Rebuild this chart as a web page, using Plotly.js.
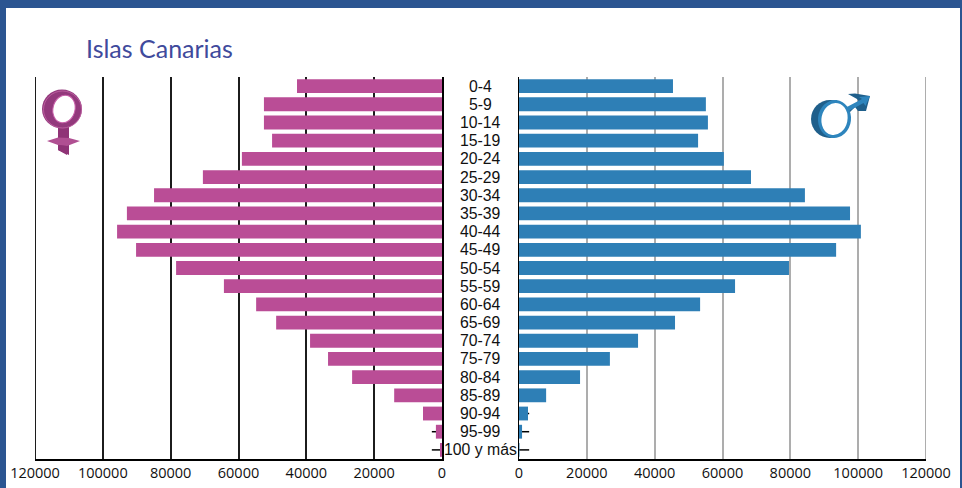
<!DOCTYPE html>
<html>
<head>
<meta charset="utf-8">
<script src="https://cdn.plot.ly/plotly-3.0.1.min.js"></script>
<style>html,body{margin:0;padding:0;background:#fff;overflow:hidden}#chart{width:962px;height:488px}</style>
</head>
<body>
<div id="chart"></div>
<script>
const ageGroups = ['0-4','5-9','10-14','15-19','20-24','25-29','30-34','35-39','40-44','45-49','50-54','55-59','60-64','65-69','70-74','75-79','80-84','85-89','90-94','95-99','100 y más'];
const mujeres = [42750,52500,52500,50100,59000,70500,84900,92900,95800,90200,78400,64300,54800,48900,38900,33600,26500,14100,5600,1800,600];
const hombres = [45400,55100,55700,52800,60400,68400,84300,97600,100800,93500,79600,63700,53400,46000,35100,26800,18000,8000,2650,900,150];
const tickValues = [0,20000,40000,60000,80000,100000,120000];
const stubGroups = ['90-94','95-99','100 y más'];
const stubLength = 3000;
const axisMax = 120000;

const W = 962, H = 488;
const M = {l:35, r:36, t:77, b:29};
const plotW = W - M.l - M.r, plotH = H - M.t - M.b;
const px = x => (x - M.l) / plotW;
const py = y => 1 - (y - M.t) / plotH;
const BLUE = '#2b5591';
const GRID_LEFT = '#1c1c1c', GRID_RIGHT = '#adadad';

// Female symbol: extruded ring, stem and cross
const venus = `<svg xmlns="http://www.w3.org/2000/svg" viewBox="0 0 42 70" width="42" height="70">
<path d="M16 36 L27 36 L27 50 L27 66 L16 61 Z" fill="#8f3376"/>
<path d="M5 52 L16 48.5 L27 49 L38 52 L25 57 L16 56 Z" fill="#b04f92"/>
<path d="M16 56 L25 57 L25 66 L16 61 Z" fill="#8f3376"/>
<ellipse cx="20" cy="20" rx="20" ry="19.5" fill="#93397c"/>
<ellipse cx="20.5" cy="20.5" rx="19" ry="18.5" fill="none" stroke="#c366a6" stroke-width="0.8"/>
<ellipse cx="22" cy="20" rx="11" ry="14" transform="rotate(14 22 20)" fill="#fff" stroke="#c85ea8" stroke-width="1"/>
</svg>`;
// Male symbol: extruded ring with an arrow pointing up and to the right
const mars = `<svg xmlns="http://www.w3.org/2000/svg" viewBox="0 0 62 48" width="62" height="48">
<path d="M36 17 L50 10 L47 6 L38 1 L45 0.5 L60 3 L56 18 L48 18 L45 14 L39 20 Z" fill="#1f5f8b"/>
<path d="M35 15 L52 6 L49 4 L60 3 L55.5 13 L53.5 10 L37 19 Z" fill="#2e85bd"/>
<ellipse cx="20" cy="26" rx="19" ry="19" fill="#1f5f8b"/>
<ellipse cx="24.5" cy="26" rx="16.5" ry="19" transform="rotate(6 24.5 26)" fill="#2e85bd"/>
<ellipse cx="24.5" cy="26" rx="13" ry="16" transform="rotate(12 24.5 26)" fill="#fff"/>
</svg>`;
const svgUri = s => 'data:image/svg+xml;utf8,' + encodeURIComponent(s);

const stubLine = {color:'#000', width:1.5};
const stubs = [];
stubGroups.forEach(g => {
  stubs.push({type:'line', layer:'below', xref:'x', yref:'y', x0:0, x1:stubLength, y0:g, y1:g, line:stubLine});
  stubs.push({type:'line', layer:'below', xref:'x2', yref:'y2', x0:0, x1:stubLength, y0:g, y1:g, line:stubLine});
});

// Outermost grid lines sit on the range limit, so they are added explicitly
const edgeLines = [
  {type:'line', layer:'below', xref:'x', yref:'y domain', x0:axisMax, x1:axisMax, y0:0, y1:1, line:{color:GRID_LEFT, width:2}},
  {type:'line', layer:'below', xref:'x2', yref:'y2 domain', x0:axisMax, x1:axisMax, y0:0, y1:1, line:{color:GRID_RIGHT, width:2}}
];

const band = (x0,y0,x1,y1) => ({type:'rect', xref:'paper', yref:'paper', x0:px(x0), x1:px(x1), y0:py(y0), y1:py(y1), fillcolor:BLUE, line:{width:0}, layer:'above'});

const axisX = {
  tickmode:'array', tickvals:tickValues, ticktext:tickValues.map(String),
  showgrid:true, gridwidth:2,
  showline:true, linecolor:'#000', linewidth:1.5,
  ticks:'', zeroline:false, ticklabelstandoff:0,
  tickfont:{family:'Open Sans, sans-serif', size:14.5, color:'#111'}
};
const axisY = {
  type:'category', categoryorder:'array', categoryarray:ageGroups, range:[20.5,-0.5],
  showticklabels:false, ticks:'', showgrid:false, zeroline:false,
  showline:true, linecolor:'#000', linewidth:1.5
};

const data = [
  {type:'bar', orientation:'h', y:ageGroups, x:mujeres, xaxis:'x', yaxis:'y', marker:{color:'#ba4d96'}, name:'Mujeres', hoverinfo:'y+x'},
  {type:'bar', orientation:'h', y:ageGroups, x:hombres, xaxis:'x2', yaxis:'y2', marker:{color:'#2e7fb6'}, name:'Hombres', hoverinfo:'y+x'}
];

const layout = {
  width:W, height:H, margin:{l:M.l, r:M.r, t:M.t, b:M.b, pad:0},
  paper_bgcolor:'#fff', plot_bgcolor:'rgba(0,0,0,0)',
  showlegend:false, bargap:0.24,
  font:{family:'Open Sans, sans-serif', color:'#111'},
  title:{text:'Islas Canarias', x:86/W, xanchor:'left', xref:'container', y:1-49/H, yanchor:'middle', yref:'container',
         font:{family:'Lato, sans-serif', size:25, color:'#3f4a9c'}},
  xaxis:Object.assign({}, axisX, {domain:[0,407/plotW], range:[axisMax,0], gridcolor:GRID_LEFT}),
  xaxis2:Object.assign({}, axisX, {domain:[(519-M.l)/plotW,1], range:[0,axisMax], gridcolor:GRID_RIGHT}),
  yaxis:Object.assign({}, axisY, {anchor:'x', side:'right'}),
  yaxis2:Object.assign({}, axisY, {anchor:'x2', side:'left'}),
  annotations: ageGroups.map(g => ({
    text:g, xref:'paper', yref:'y', x:px(480.5), y:g, xanchor:'center', yanchor:'middle', showarrow:false,
    font:{family:'Liberation Sans, sans-serif', size:15.8, color:'#111'}, borderpad:0, borderwidth:0
  })),
  shapes: stubs.concat(edgeLines, [band(0,0,W,8), band(0,0,6,H), band(960,0,W,H)]),
  images:[
    {source:svgUri(venus), xref:'paper', yref:'paper', x:px(42), y:py(89), sizex:42/plotW, sizey:70/plotH, xanchor:'left', yanchor:'top', sizing:'stretch', layer:'above'},
    {source:svgUri(mars), xref:'paper', yref:'paper', x:px(810), y:py(93), sizex:62/plotW, sizey:48/plotH, xanchor:'left', yanchor:'top', sizing:'stretch', layer:'above'}
  ]
};

Plotly.newPlot('chart', data, layout, {displayModeBar:false, staticPlot:true});
</script>
</body>
</html>
